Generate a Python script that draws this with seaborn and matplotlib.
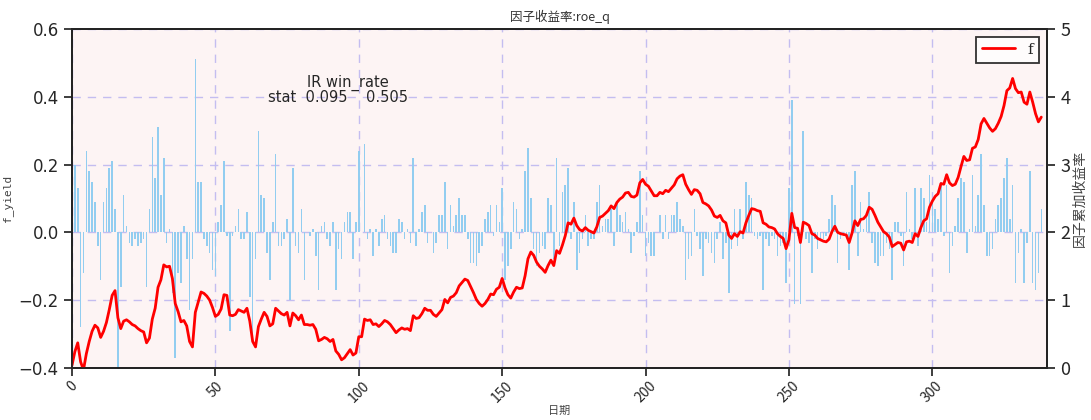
import numpy as np
import pandas as pd
import seaborn as sns
import matplotlib
matplotlib.use("Agg")
import matplotlib.pyplot as plt

# daily factor returns (f_yield), index 0..338
f_yield = [
    0.04, 0.20, 0.13, -0.28, -0.12, 0.24, 0.18, 0.15, 0.09, -0.04, -0.14, 0.09, 0.13, 0.19, 0.21,
    0.07, -0.40, -0.16, 0.11, 0.02, -0.03, -0.04, -0.02, -0.04, -0.03, -0.02, -0.16, 0.07, 0.28,
    0.16, 0.31, 0.11, 0.22, -0.03, 0.01, -0.18, -0.37, -0.12, -0.15, 0.02, -0.08, -0.23, -0.08, 0.51,
    0.15, 0.15, -0.02, -0.04, -0.06, -0.11, -0.13, 0.03, 0.08, 0.21, -0.01, -0.29, -0.01, 0.02,
    0.07, -0.02, -0.02, 0.06, -0.19, -0.30, -0.08, 0.30, 0.11, 0.10, -0.06, -0.14, 0.03, 0.23,
    -0.04, -0.04, -0.02, 0.04, -0.20, 0.19, -0.04, -0.06, 0.07, -0.14, 0.00, -0.01, 0.01, -0.07,
    -0.17, 0.02, 0.03, -0.02, -0.04, 0.03, -0.17, -0.05, -0.08, 0.03, 0.06, 0.06, -0.08, 0.03, 0.24,
    0.00, 0.26, -0.02, 0.01, -0.07, 0.01, -0.04, 0.04, 0.05, -0.02, -0.04, -0.06, -0.06, 0.04,
    0.03, -0.02, 0.01, -0.03, 0.22, -0.04, 0.01, 0.06, 0.08, -0.03, 0.00, -0.06, -0.03, 0.05, 0.05,
    0.15, -0.05, 0.08, 0.02, 0.05, 0.10, 0.05, 0.05, -0.02, -0.09, -0.09, -0.10, -0.06, -0.04,
    0.04, 0.06, 0.08, -0.01, 0.08, 0.03, 0.13, -0.14, -0.10, -0.05, 0.09, 0.07, -0.02, 0.01, 0.18,
    0.25, 0.10, -0.05, -0.10, -0.06, -0.04, -0.05, 0.10, 0.08, -0.08, 0.22, -0.04, 0.12,
    0.14, 0.19, -0.02, 0.09, -0.11, -0.06, -0.02, 0.05, -0.04, -0.02, -0.02, 0.09, 0.14, 0.02, 0.04,
    0.04, 0.07, -0.04, 0.09, 0.05, 0.03, 0.06, 0.01, -0.06, -0.01, 0.03, 0.18, 0.05, -0.07,
    -0.03, -0.07, -0.07, 0.00, 0.05, -0.02, 0.05, -0.02, 0.05, 0.05, 0.09, 0.04, 0.02, -0.14,
    -0.08, -0.07, 0.07, -0.01, -0.05, -0.13, -0.02, -0.03, -0.06, -0.09, -0.02, 0.03, -0.08, -0.03,
    -0.18, -0.05, 0.07, -0.04, 0.07, -0.02, 0.15, 0.11, 0.10, -0.01, -0.02, -0.01, -0.17, -0.02, -0.04,
    -0.01, -0.02, -0.07, -0.04, -0.03, -0.15, 0.13, 0.39, -0.21, -0.01, -0.21, 0.30, -0.02, -0.03,
    -0.12, -0.02, -0.05, -0.02, -0.02, -0.01, 0.04, 0.11, 0.08, -0.09, -0.02, -0.01, -0.01, -0.11, 0.14,
    0.18, -0.07, 0.09, 0.01, 0.05, 0.12, -0.03, -0.09, -0.10, -0.07, -0.07, -0.03, -0.05, -0.14,
    0.03, 0.03, -0.01, -0.10, 0.12, 0.01, -0.02, 0.13, -0.04, 0.13, 0.10, 0.03, 0.17, 0.09, 0.07,
    0.04, 0.15, -0.01, 0.14, -0.12, -0.04, 0.02, 0.10,
    0.16, 0.15, -0.06, 0.01, 0.17, 0.02, 0.11, 0.23, 0.08, -0.07, -0.07, -0.05, 0.04, 0.08, 0.10,
    0.16, 0.22, 0.04, 0.14, -0.15, -0.06, 0.01, -0.15, -0.03, 0.18, -0.15, -0.17, -0.12, 0.07,
]
ir_value = 0.095
win_rate = 0.505
factor_name = "roe_q"

df = pd.DataFrame({"day": np.arange(len(f_yield)), "f_yield": f_yield})
df["f"] = df["f_yield"].cumsum()   # cumulative factor return

sns.set_theme(style="ticks")
plt.rcParams["font.family"] = ["Noto Sans CJK SC", "DejaVu Sans"]
plt.rcParams["axes.unicode_minus"] = False

fig = plt.figure(figsize=(10.91, 4.2), dpi=100)
ax = fig.add_axes([0.066, 0.124, 0.8937, 0.807])
ax.set_facecolor("#fdf4f4")

sns.barplot(data=df, x="day", y="f_yield", native_scale=True, color="#92cdf0",
            saturation=1, width=0.55, linewidth=0, errorbar=None, ax=ax)
ax.set_xlim(0, 340)
ax.set_ylim(-0.4, 0.6)
ax.set_yticks([-0.4, -0.2, 0.0, 0.2, 0.4, 0.6])
ax.set_yticklabels(["−0.4", "−0.2", "0.0", "0.2", "0.4", "0.6"], family="DejaVu Sans")
ax.set_xticks(range(0, 301, 50))
ax.tick_params(axis="x", labelrotation=45, labelsize=10, pad=2)
ax.tick_params(axis="y", labelsize=12)
ax.grid(True, linestyle=(0, (6, 5)), color="#c4bdf0", linewidth=1)
ax.set_axisbelow(True)
ax.set_xlabel("日期", fontsize=8, color="#444444", labelpad=0)
ax.set_ylabel("f_yield", fontsize=8, color="#444444", family="DejaVu Sans Mono")
ax.set_title("因子收益率:" + factor_name, fontsize=9, color="#333333")
for s in ax.spines.values():
    s.set_linewidth(1.3)
    s.set_color("black")

ax.text(82, 0.44, "IR win_rate", fontsize=10.5, family="DejaVu Sans", va="center")
ax.text(68.5, 0.397, f"stat  {ir_value:.3f}    {win_rate:.3f}", fontsize=10.5,
        family="DejaVu Sans", va="center")

ax2 = ax.twinx()
sns.lineplot(data=df, x="day", y="f", color="red", linewidth=2, label="f", ax=ax2)
ax2.set_ylim(0, 5)
ax2.set_xlim(0, 340)
ax2.set_yticks(range(0, 6))
ax2.tick_params(axis="y", labelsize=13)
ax2.set_ylabel("因子累加收益率", fontsize=10, color="#444444", labelpad=2)
ax2.set_xlabel("")
leg = ax2.legend(loc="upper right", frameon=True, fancybox=False, prop={"family": "DejaVu Serif", "size": 11},
                 handlelength=2.2, borderpad=0.4)
leg.get_frame().set_edgecolor("black")
leg.get_frame().set_linewidth(1.3)

fig.savefig("out.png", dpi=100)
